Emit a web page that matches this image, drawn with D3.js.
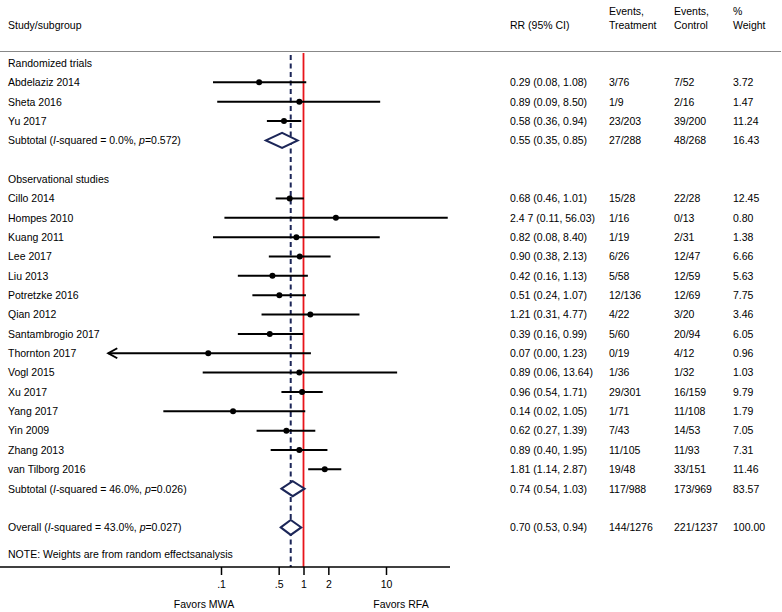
<!DOCTYPE html>
<html><head><meta charset="utf-8">
<script src="https://cdn.jsdelivr.net/npm/d3@7"></script>
<style>body{margin:0;background:#fff}svg{display:block}text{font-family:"Liberation Sans",Arial,sans-serif;font-size:10.5px;fill:#000}</style>
</head><body><svg id="c" width="782" height="612"></svg>
<script>
const groups = ["Randomized trials", "Observational studies"];
const studyNames = ["Abdelaziz 2014","Sheta 2016","Yu 2017","Cillo 2014","Hompes 2010","Kuang 2011","Lee 2017","Liu 2013","Potretzke 2016","Qian 2012","Santambrogio 2017","Thornton 2017","Vogl 2015","Xu 2017","Yang 2017","Yin 2009","Zhang 2013","van Tilborg 2016"];
const studyGroup = [0,0,0,1,1,1,1,1,1,1,1,1,1,1,1,1,1,1];
const studyRR = [0.29,0.89,0.58,0.68,2.47,0.82,0.90,0.42,0.51,1.21,0.39,0.07,0.89,0.96,0.14,0.62,0.89,1.81];
const studyLo = [0.08,0.09,0.36,0.46,0.11,0.08,0.38,0.16,0.24,0.31,0.16,0.00,0.06,0.54,0.02,0.27,0.40,1.14];
const studyHi = [1.08,8.50,0.94,1.01,56.03,8.40,2.13,1.13,1.07,4.77,0.99,1.23,13.64,1.71,1.05,1.39,1.95,2.87];
const studyCI = ["0.29 (0.08, 1.08)","0.89 (0.09, 8.50)","0.58 (0.36, 0.94)","0.68 (0.46, 1.01)","2.4 7 (0.11, 56.03)","0.82 (0.08, 8.40)","0.90 (0.38, 2.13)","0.42 (0.16, 1.13)","0.51 (0.24, 1.07)","1.21 (0.31, 4.77)","0.39 (0.16, 0.99)","0.07 (0.00, 1.23)","0.89 (0.06, 13.64)","0.96 (0.54, 1.71)","0.14 (0.02, 1.05)","0.62 (0.27, 1.39)","0.89 (0.40, 1.95)","1.81 (1.14, 2.87)"];
const studyEvT = ["3/76","1/9","23/203","15/28","1/16","1/19","6/26","5/58","12/136","4/22","5/60","0/19","1/36","29/301","1/71","7/43","11/105","19/48"];
const studyEvC = ["7/52","2/16","39/200","22/28","0/13","2/31","12/47","12/59","12/69","3/20","20/94","4/12","1/32","16/159","11/108","14/53","11/93","33/151"];
const studyWt = ["3.72","1.47","11.24","12.45","0.80","1.38","6.66","5.63","7.75","3.46","6.05","0.96","1.03","9.79","1.79","7.05","7.31","11.46"];

const subI2 = ["0.0%","46.0%"];
const subP = ["0.572","0.026"];
const subRR = [0.55,0.74];
const subLo = [0.35,0.54];
const subHi = [0.85,1.03];
const subCI = ["0.55 (0.35, 0.85)","0.74 (0.54, 1.03)"];
const subEvT = ["27/288","117/988"];
const subEvC = ["48/268","173/969"];
const subWt = ["16.43","83.57"];

const overallI2 = "43.0%", overallP = "0.027";
const overallRR = 0.70, overallLo = 0.53, overallHi = 0.94;
const overallCI = "0.70 (0.53, 0.94)", overallEvT = "144/1276", overallEvC = "221/1237", overallWt = "100.00";

const tickValues = [0.1,0.5,1,2,10];
const tickLabels = [".1",".5","1","2","10"];
const axisMin = 0.0043;

const svg = d3.select("#c");
const x = d3.scaleLog().domain([0.1,10]).range([221,386]);
const yRow = d3.scaleLinear().domain([0,1]).range([63,82.35]);
const colRR = 510, colT = 609, colC = 674, colW = 733;
const axisY = 567, topY = 52;

// build rows
const rows = [];
let idx = 0;
groups.forEach((g,gi)=>{
  rows.push({type:"group",label:g,i:idx++});
  studyNames.forEach((s,k)=>{ if(studyGroup[k]===gi) rows.push({type:"study",label:s,rr:studyRR[k],lo:studyLo[k],hi:studyHi[k],ci:studyCI[k],t:studyEvT[k],c:studyEvC[k],w:studyWt[k],i:idx++}); });
  rows.push({type:"sub",i2:subI2[gi],p:subP[gi],rr:subRR[gi],lo:subLo[gi],hi:subHi[gi],ci:subCI[gi],t:subEvT[gi],c:subEvC[gi],w:subWt[gi],i:idx++});
  idx++;
});
rows.push({type:"overall",i2:overallI2,p:overallP,rr:overallRR,lo:overallLo,hi:overallHi,ci:overallCI,t:overallEvT,c:overallEvC,w:overallWt,i:idx});

// header
const hdr = svg.append("g");
hdr.append("text").attr("x",8).attr("y",29).text("Study/subgroup");
hdr.append("text").attr("x",colRR).attr("y",29).text("RR (95% CI)");
hdr.append("text").attr("x",colT).attr("y",15).text("Events,");
hdr.append("text").attr("x",colT).attr("y",29).text("Treatment");
hdr.append("text").attr("x",colC).attr("y",15).text("Events,");
hdr.append("text").attr("x",colC).attr("y",29).text("Control");
hdr.append("text").attr("x",colW).attr("y",15).text("%");
hdr.append("text").attr("x",colW).attr("y",29).text("Weight");
svg.append("line").attr("x1",0).attr("x2",781).attr("y1",51.5).attr("y2",51.5).attr("stroke","#888").attr("stroke-width",1.2);

// reference lines
svg.append("line").attr("x1",x(overallRR)).attr("x2",x(overallRR)).attr("y1",55).attr("y2",axisY)
  .attr("stroke","#1c2658").attr("stroke-width",2).attr("stroke-dasharray","5,3.5");
svg.append("line").attr("x1",x(1)).attr("x2",x(1)).attr("y1",topY+1).attr("y2",axisY)
  .attr("stroke","#e8141b").attr("stroke-width",1.8);

// labels
rows.forEach(r=>{
  const yy = yRow(r.i) + 3.8;
  if(r.type==="group"||r.type==="study"){
    svg.append("text").attr("x",8).attr("y",yy).text(r.label);
  } else {
    const t = svg.append("text").attr("x",8).attr("y",yy);
    t.append("tspan").text(r.type==="sub"?"Subtotal  (":"Overall  (");
    t.append("tspan").attr("font-style","italic").text("I");
    t.append("tspan").text("-squared = "+r.i2+", ");
    t.append("tspan").attr("font-style","italic").text("p");
    t.append("tspan").text("="+r.p+")");
  }
  if(r.type!=="group"){
    svg.append("text").attr("x",colRR).attr("y",yy).text(r.ci);
    svg.append("text").attr("x",colT).attr("y",yy).text(r.t);
    svg.append("text").attr("x",colC).attr("y",yy).text(r.c);
    svg.append("text").attr("x",colW).attr("y",yy).text(r.w);
  }
});
svg.append("text").attr("x",8).attr("y",558).text("NOTE: Weights are from random effectsanalysis");

// CI lines and points
rows.filter(r=>r.type==="study").forEach(r=>{
  const yy = yRow(r.i);
  const clipped = r.lo < axisMin;
  const x1 = clipped ? x(axisMin) : x(r.lo);
  svg.append("line").attr("x1",x1).attr("x2",x(r.hi)).attr("y1",yy).attr("y2",yy).attr("stroke","#000").attr("stroke-width",2);
  if(clipped){
    svg.append("path").attr("d",`M${x1+9},${yy-5}L${x1},${yy}L${x1+9},${yy+5}`).attr("fill","none").attr("stroke","#000").attr("stroke-width",2);
  }
  svg.append("circle").attr("cx",x(r.rr)).attr("cy",yy).attr("r",3).attr("fill","#000");
});

// diamonds
rows.filter(r=>r.type==="sub"||r.type==="overall").forEach(r=>{
  const yy = yRow(r.i);
  svg.append("path").attr("d",`M${x(r.lo)},${yy}L${x(r.rr)},${yy-7.5}L${x(r.hi)},${yy}L${x(r.rr)},${yy+7.5}Z`)
    .attr("fill","#fff").attr("stroke","#1c2658").attr("stroke-width",2);
});

// axis
svg.append("line").attr("x1",0).attr("x2",450).attr("y1",axisY).attr("y2",axisY).attr("stroke","#000").attr("stroke-width",1.5);
const ax = d3.axisBottom(x).tickValues(tickValues).tickSize(8).tickPadding(6).tickFormat((d,i)=>tickLabels[i]);
const axG = svg.append("g").attr("transform",`translate(0,${axisY})`).call(ax);
axG.select(".domain").remove();
axG.selectAll(".tick line").attr("stroke","#000").attr("stroke-width",1.5);
axG.selectAll(".tick text").attr("font-family","Liberation Sans, Arial, sans-serif").attr("font-size","10.5px").attr("fill","#000");
svg.append("text").attr("x",204).attr("y",608).attr("text-anchor","middle").text("Favors MWA");
svg.append("text").attr("x",401).attr("y",608).attr("text-anchor","middle").text("Favors RFA");
</script></body></html>
